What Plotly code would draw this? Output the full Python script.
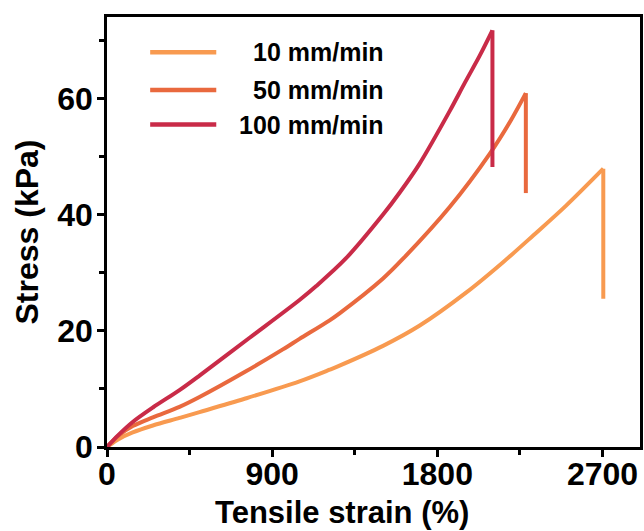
import plotly.graph_objects as go

# ---- data ----
names = ["10 mm/min", "50 mm/min", "100 mm/min"]
colors = ["#F89A50", "#E9693E", "#C92B48"]

strain_10 = [0, 60, 140, 250, 395, 504, 750, 1049, 1213, 1267, 1504, 1704, 1958, 2158, 2322, 2500, 2704, 2704]
stress_10 = [0, 1.3, 2.5, 3.7, 5.0, 6.0, 8.3, 11.3, 13.3, 14.0, 17.4, 20.9, 26.6, 31.8, 36.4, 41.5, 47.9, 25.5]

strain_50 = [0, 60, 140, 250, 395, 504, 750, 958, 1049, 1213, 1267, 1504, 1613, 1867, 2086, 2200, 2282, 2282]
stress_50 = [0, 1.9, 3.6, 5.1, 6.9, 8.6, 12.9, 16.8, 18.6, 21.8, 23.0, 29.0, 32.4, 41.3, 50.5, 56.2, 60.9, 43.7]

strain_100 = [0, 60, 140, 250, 395, 504, 777, 1049, 1140, 1300, 1504, 1595, 1700, 1867, 1950, 2030, 2100, 2100]
stress_100 = [0, 2.0, 4.3, 6.8, 9.8, 12.3, 18.8, 25.3, 27.7, 32.4, 40.0, 43.8, 48.6, 57.8, 62.7, 67.3, 71.7, 48.2]

x_ticks = [0, 900, 1800, 2700]
y_ticks = [0, 20, 40, 60]
x_title = "Tensile strain (%)"
y_title = "Stress (kPa)"

series = [(strain_10, stress_10), (strain_50, stress_50), (strain_100, stress_100)]

FONT = "Liberation Sans, Arial, sans-serif"

fig = go.Figure()
for (xs, ys), name, col in zip(series, names, colors):
    # rising part, smoothed
    fig.add_trace(go.Scatter(x=xs[:-1], y=ys[:-1], mode="lines", name=name,
                             line=dict(color=col, width=4, shape="spline", smoothing=0.9),
                             showlegend=False))
    # fracture drop
    fig.add_trace(go.Scatter(x=xs[-2:], y=ys[-2:], mode="lines", name=name,
                             line=dict(color=col, width=4), showlegend=False))

# custom legend (long line samples, right-aligned labels)
leg_y = [0.918, 0.830, 0.750]
for name, col, yy in zip(names, colors, leg_y):
    fig.add_shape(type="line", xref="paper", yref="paper",
                  x0=0.081, x1=0.205, y0=yy, y1=yy,
                  line=dict(color=col, width=4.5))
    fig.add_annotation(text=name, xref="paper", yref="paper", x=0.523, y=yy,
                       xanchor="right", yanchor="middle", showarrow=False,
                       font=dict(family=FONT, size=25, color="black", weight="bold"))

axis_common = dict(
    showline=True, linecolor="black", linewidth=2.5, mirror=True,
    ticks="outside", ticklen=7, tickwidth=2.5, tickcolor="black",
    showgrid=False, zeroline=False,
    tickfont=dict(family=FONT, size=32, color="black", weight="bold"),
)

fig.update_xaxes(range=[0, 2904], tickvals=x_ticks, ticklabelstandoff=-10,
                 minor=dict(ticks="outside", ticklen=5, tickwidth=2.5, tickcolor="black", dtick=450, tick0=0),
                 **axis_common)
fig.update_yaxes(range=[0, 74], tickvals=y_ticks, ticklabelstandoff=-2,
                 minor=dict(ticks="outside", ticklen=5, tickwidth=2.5, tickcolor="black", dtick=10, tick0=0),
                 title=dict(text=y_title, standoff=10,
                            font=dict(family=FONT, size=32, color="black", weight="bold")),
                 **axis_common)

# x-axis title (offset left of the axis centre, as in the reference)
fig.add_annotation(text=x_title, xref="paper", yref="paper", x=0.441, y=-0.152,
                   xanchor="center", yanchor="middle", showarrow=False,
                   font=dict(family=FONT, size=31, color="black", weight="bold"))

fig.update_layout(width=644, height=531,
                  margin=dict(l=107, r=4, t=17, b=84, autoexpand=False),
                  paper_bgcolor="white", plot_bgcolor="white")

fig.write_html("out.html")
